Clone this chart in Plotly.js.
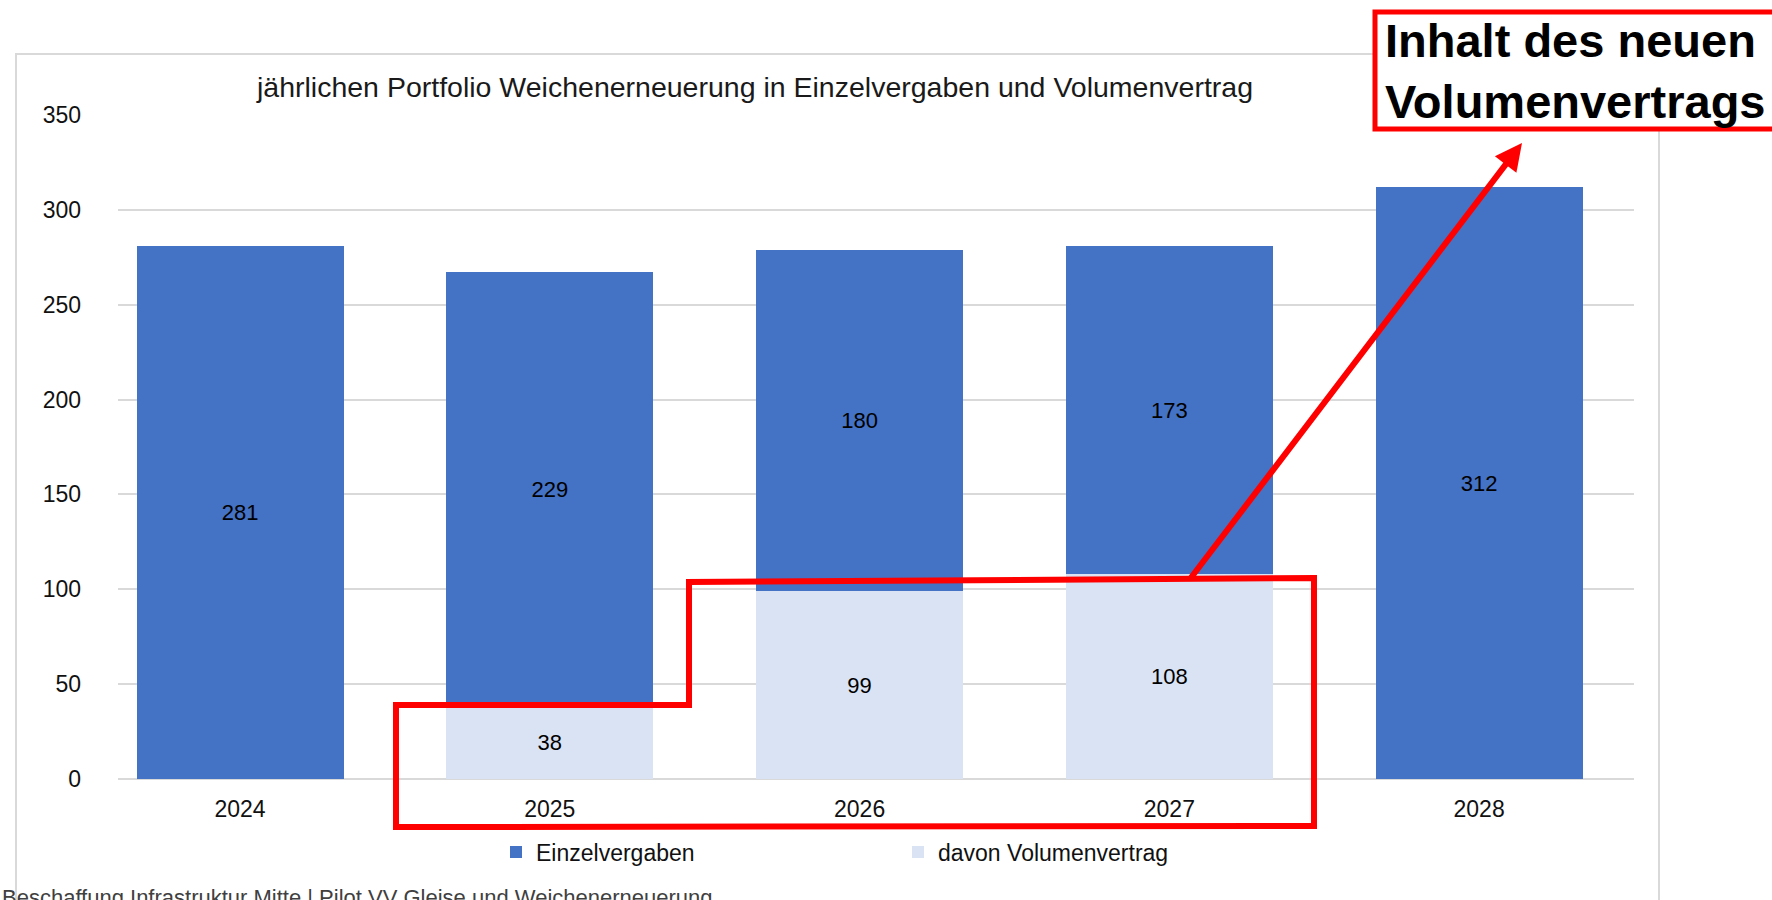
<!DOCTYPE html>
<html>
<head>
<meta charset="utf-8">
<script src="https://cdn.plot.ly/plotly-3.0.1.min.js"></script>
<style>
  html, body { margin: 0; padding: 0; background: #fff; }
  #chart { width: 1772px; height: 900px; }
</style>
</head>
<body>
<div id="chart"></div>
<script>
// ---- data ----
const years = ["2024", "2025", "2026", "2027", "2028"];
const volumenvertrag = [null, 38, 99, 108, null];
const einzelvergaben = [281, 229, 180, 173, 312];
const seriesNames = ["Einzelvergaben", "davon Volumenvertrag"];
const chartTitle = "jährlichen Portfolio Weichenerneuerung in Einzelvergaben und Volumenvertrag";
const calloutText = "Inhalt des neuen<br>Volumenvertrags";
const footerText = "Beschaffung Infrastruktur Mitte | Pilot VV Gleise und Weichenerneuerung";

// ---- geometry (pixels) ----
const W = 1772, H = 900;
const M = { l: 118, r: 138, t: 115, b: 121 };
const PW = W - M.l - M.r, PH = H - M.t - M.b;
const px = x => (x - M.l) / PW;
const py = y => (H - M.b - y) / PH;

const FONT = "Liberation Sans, Arial, sans-serif";
const DARK = "#4472C4", LIGHT = "#DAE3F3", RED = "#FF0000", GRID = "#D9D9D9";

const traces = [
  {
    type: "bar", name: seriesNames[1], x: years, y: volumenvertrag,
    marker: { color: LIGHT },
    texttemplate: "%{y}", textposition: "inside", insidetextanchor: "middle",
    textangle: 0, constraintext: "none",
    textfont: { family: FONT, size: 22, color: "#000" },
    hoverinfo: "skip"
  },
  {
    type: "bar", name: seriesNames[0], x: years, y: einzelvergaben,
    marker: { color: DARK },
    texttemplate: "%{y}", textposition: "inside", insidetextanchor: "middle",
    textangle: 0, constraintext: "none",
    textfont: { family: FONT, size: 22, color: "#000" },
    hoverinfo: "skip"
  }
];

const poly = [[396, 827], [396, 705], [689, 705], [689, 582], [1314, 578], [1314, 826]];
const polyPath = "M" + poly.map(p => px(p[0]) + "," + py(p[1])).join(" L") + " Z";

const layout = {
  width: W, height: H,
  margin: M,
  paper_bgcolor: "#fff", plot_bgcolor: "#fff",
  barmode: "stack", bargap: 0.332,
  font: { family: FONT, color: "#111" },
  title: {
    text: chartTitle,
    font: { family: FONT, size: 28.5, color: "#1a1a1a" },
    xref: "container", yref: "container",
    x: 755 / W, xanchor: "center",
    y: 1 - 87 / H, yanchor: "middle"
  },
  xaxis: {
    type: "category", range: [-0.394, 4.5],
    showgrid: false, showline: false, zeroline: false, ticks: "",
    tickfont: { family: FONT, size: 23, color: "#111" },
    ticklabelstandoff: 14, fixedrange: true
  },
  yaxis: {
    range: [0, 350], dtick: 50, tick0: 0,
    showgrid: true, gridcolor: GRID, gridwidth: 2,
    zeroline: true, zerolinecolor: GRID, zerolinewidth: 2,
    showline: false, ticks: "",
    tickfont: { family: FONT, size: 23, color: "#111" },
    ticklabelstandoff: 36, fixedrange: true
  },
  showlegend: true,
  legend: {
    orientation: "h", traceorder: "reversed",
    x: px(496), xanchor: "left",
    y: py(852), yanchor: "middle",
    font: { family: FONT, size: 23, color: "#111" },
    entrywidth: 357, itemwidth: 30,
    bgcolor: "rgba(0,0,0,0)"
  },
  shapes: [
    { type: "rect", xref: "paper", yref: "paper",
      x0: px(16), x1: px(1659), y0: py(54), y1: py(960),
      line: { color: GRID, width: 2 }, fillcolor: "rgba(0,0,0,0)", layer: "below" },
    { type: "path", xref: "paper", yref: "paper", path: polyPath,
      line: { color: RED, width: 6 }, fillcolor: "rgba(0,0,0,0)" },
    { type: "rect", xref: "paper", yref: "paper",
      x0: px(1375), x1: px(1790), y0: py(12), y1: py(129),
      line: { color: RED, width: 5 }, fillcolor: "#fff" }
  ],
  annotations: [
    { xref: "paper", yref: "paper", x: px(1522), y: py(143),
      ax: 1190 - 1522, ay: 579 - 143, axref: "pixel", ayref: "pixel",
      text: "", showarrow: true, arrowhead: 2, arrowsize: 0.9,
      arrowwidth: 6, arrowcolor: RED, standoff: 0 },
    { xref: "paper", yref: "paper", x: px(1383), y: py(71),
      xanchor: "left", yanchor: "middle", align: "left",
      text: "<b>" + calloutText + "</b>", showarrow: false,
      font: { family: FONT, size: 47, color: "#000" } },
    { xref: "paper", yref: "paper", x: px(0), y: py(897),
      xanchor: "left", yanchor: "middle", align: "left",
      text: footerText, showarrow: false,
      font: { family: FONT, size: 22, color: "#404040" } }
  ]
};

Plotly.newPlot("chart", traces, layout, { staticPlot: true, displayModeBar: false });
</script>
</body>
</html>
